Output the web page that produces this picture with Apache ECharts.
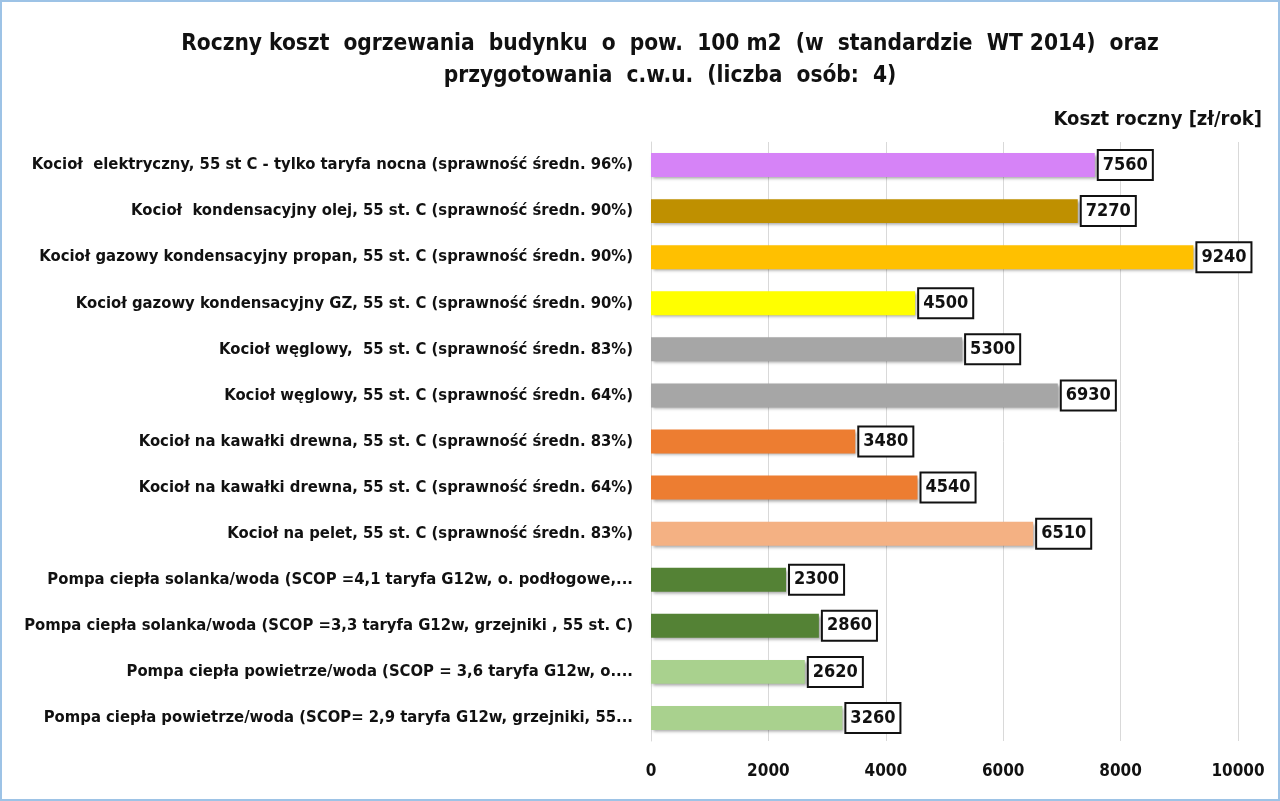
<!DOCTYPE html>
<html>
<head>
<meta charset="utf-8">
<script src="https://cdn.jsdelivr.net/npm/echarts@6/dist/echarts.min.js"></script>
<style>
    html,body{margin:0;padding:0;background:#fff;}
    #ChartMain{width:1276px;height:797px;border:2px solid #9dc3e6;}
</style>
</head>
<body>
<div id="ChartMain"></div>
<script type="text/javascript">
    var FONT = "'DejaVu Sans Condensed', sans-serif";

    var categories = [
        'Kocioł  elektryczny, 55 st C - tylko taryfa nocna (sprawność średn. 96%)',
        'Kocioł  kondensacyjny olej, 55 st. C (sprawność średn. 90%)',
        'Kocioł gazowy kondensacyjny propan, 55 st. C (sprawność średn. 90%)',
        'Kocioł gazowy kondensacyjny GZ, 55 st. C (sprawność średn. 90%)',
        'Kocioł węglowy,  55 st. C (sprawność średn. 83%)',
        'Kocioł węglowy, 55 st. C (sprawność średn. 64%)',
        'Kocioł na kawałki drewna, 55 st. C (sprawność średn. 83%)',
        'Kocioł na kawałki drewna, 55 st. C (sprawność średn. 64%)',
        'Kocioł na pelet, 55 st. C (sprawność średn. 83%)',
        'Pompa ciepła solanka/woda (SCOP =4,1 taryfa G12w, o. podłogowe,...',
        'Pompa ciepła solanka/woda (SCOP =3,3 taryfa G12w, grzejniki , 55 st. C)',
        'Pompa ciepła powietrze/woda (SCOP = 3,6 taryfa G12w, o....',
        'Pompa ciepła powietrze/woda (SCOP= 2,9 taryfa G12w, grzejniki, 55...'
    ];
    var costs = [7560, 7270, 9240, 4500, 5300, 6930, 3480, 4540, 6510, 2300, 2860, 2620, 3260];
    var barColors = ['#d683f7', '#bf9000', '#ffc000', '#ffff00', '#a6a6a6', '#a6a6a6',
                     '#ed7d31', '#ed7d31', '#f4b183', '#548235', '#548235', '#a9d18e', '#a9d18e'];
    var xTicks = [0, 2000, 4000, 6000, 8000, 10000];

    var myChart = echarts.init(document.getElementById('ChartMain'));
    var option = {
        animation: false,
        title: {
            text: 'Roczny koszt  ogrzewania  budynku  o  pow.  100 m2  (w  standardzie  WT 2014)  oraz\nprzygotowania  c.w.u.  (liczba  osób:  4)',
            left: 663,
            textAlign: 'center',
            top: 21,
            textStyle: {fontFamily: FONT, fontSize: 22.5, fontWeight: 'bold', color: '#111', lineHeight: 32}
        },
        graphic: [{
            type: 'text', right: 16, top: 108,
            style: {text: 'Koszt roczny [zł/rok]', font: 'bold 20px ' + FONT, fill: '#111'}
        }],
        grid: {left: 649, right: 40, top: 140, bottom: 58},
        xAxis: {
            type: 'value', min: xTicks[0], max: xTicks[xTicks.length - 1], interval: 2000,
            axisLine: {show: false}, axisTick: {show: false},
            splitLine: {lineStyle: {color: '#d9d9d9', width: 1}},
            axisLabel: {margin: 22, fontFamily: FONT, fontSize: 17, fontWeight: 'bold', color: '#111',
                        formatter: function (v) { return String(v); }}
        },
        yAxis: {
            type: 'category', inverse: true, data: categories,
            axisLine: {lineStyle: {color: '#d9d9d9'}}, axisTick: {show: false},
            axisLabel: {margin: 18, fontFamily: FONT, fontSize: 16.5, fontWeight: 'bold', color: '#111'}
        },
        series: [{
            type: 'bar',
            barWidth: '52%',
            data: costs.map(function (v, i) {
                return {value: v, itemStyle: {color: barColors[i]}};
            }),
            itemStyle: {shadowColor: 'rgba(0,0,0,0.35)', shadowBlur: 3, shadowOffsetX: 2, shadowOffsetY: 2},
            label: {
                show: true, position: 'right', distance: 4,
                fontFamily: FONT, fontSize: 18, fontWeight: 'bold', color: '#111',
                backgroundColor: '#fff', borderColor: '#111', borderWidth: 2,
                padding: [6, 4, 4, 4]
            }
        }]
    };
    myChart.setOption(option);
</script>
</body>
</html>
